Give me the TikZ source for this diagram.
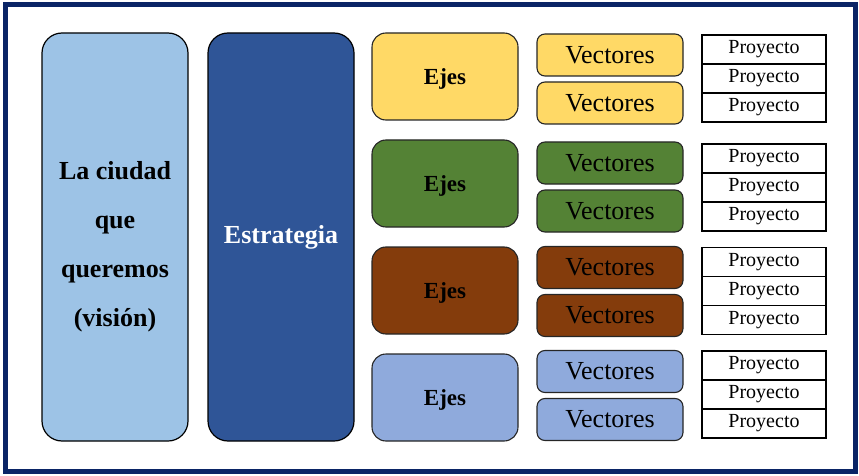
\documentclass[tikz,border=0pt]{standalone}
\usepackage{fontspec}
\setmainfont{Liberation Serif}
\usetikzlibrary{positioning}
\definecolor{marco}{HTML}{0A2466}
\definecolor{vision}{HTML}{9DC3E6}
\definecolor{estra}{HTML}{2F5597}
\definecolor{amarillo}{HTML}{FFD966}
\definecolor{verde}{HTML}{548235}
\definecolor{cafe}{HTML}{843C0C}
\definecolor{azul}{HTML}{8FAADC}

\begin{document}
\begin{tikzpicture}[x=1pt,y=1pt,outer sep=0pt,
	grande/.style={draw,line width=1.2pt,rounded corners=20pt,minimum width=146pt,minimum height=408pt,align=center,font=\fontsize{26}{49}\selectfont\bfseries},
	eje/.style={draw=black!85,line width=1.1pt,rounded corners=14pt,minimum width=146pt,minimum height=87pt,text height=19pt,text depth=2.5pt,font=\fontsize{23}{28}\selectfont\bfseries},
	vec/.style={draw=black!85,line width=1.1pt,rounded corners=8pt,minimum width=146pt,minimum height=42pt,font=\fontsize{26}{30}\selectfont},
	proy/.style={draw,line width=1.3pt,fill=white,minimum width=124pt,minimum height=29pt,font=\fontsize{20}{22}\selectfont}]
			 \useasboundingbox (0,0) rectangle (859,-476);
			 \draw[marco,line width=5pt] (5,-4.5) rectangle (855.5,-471.5);
			 \node[grande,fill=vision,anchor=north west] (A) at (42,-33) {\rule{0pt}{38pt}La ciudad\\que\\queremos\\(visión)};
			 \node[grande,fill=estra,text=white] (B) [right=20pt of A] {Estrategia};
			 \node[eje,fill=amarillo] (C) [right=18pt of B.north east,anchor=north west] {Ejes};
			 \node[vec,fill=amarillo] (D) [above right=3pt and 19pt of C.east,yshift=-2.5pt] {Vectores};
			 \node[vec,fill=amarillo] (E) [below=6pt of D] {Vectores};
			 \node[proy] (G) [right=184pt of C,yshift=-2pt] {Proyecto};
			 \node[proy] (F) [above=0pt of G] {Proyecto};
			 \node[proy] (H) [below=0pt of G] {Proyecto};
			 \node[eje,fill=verde] (I) [below=20pt of C] {Ejes};
			 \node[vec,fill=verde] (J) [above right=3pt and 19pt of I.east,yshift=-3.5pt] {Vectores};
			 \node[vec,fill=verde] (K) [below=6pt of J] {Vectores};
			 \node[proy] (M) [right=184pt of I,yshift=-4pt] {Proyecto};
			 \node[proy] (L) [above=0pt of M] {Proyecto};
			 \node[proy] (N) [below=0pt of M] {Proyecto};
			 \node[eje,fill=cafe] (O) [below=20pt of I] {Ejes};
			 \node[vec,fill=cafe] (P) [above right=3pt and 19pt of O.east,yshift=-1pt] {Vectores};
			 \node[vec,fill=cafe] (Q) [below=6pt of P] {Vectores};
			 \node[proy] (S) [right=184pt of O,yshift=-0.5pt] {Proyecto};
			 \node[proy] (R) [above=0pt of S] {Proyecto};
			 \node[proy] (T) [below=0pt of S] {Proyecto};
			 \node[eje,fill=azul] (U) [below=20pt of O] {Ejes};
			 \node[vec,fill=azul] (V) [above right=3pt and 19pt of U.east,yshift=2pt] {Vectores};
			 \node[vec,fill=azul] (W) [below=6pt of V] {Vectores};
			 \node[proy] (Y) [right=184pt of U,yshift=3pt] {Proyecto};
			 \node[proy] (X) [above=0pt of Y] {Proyecto};
			 \node[proy] (Z) [below=0pt of Y] {Proyecto};
\end{tikzpicture}
\end{document}
